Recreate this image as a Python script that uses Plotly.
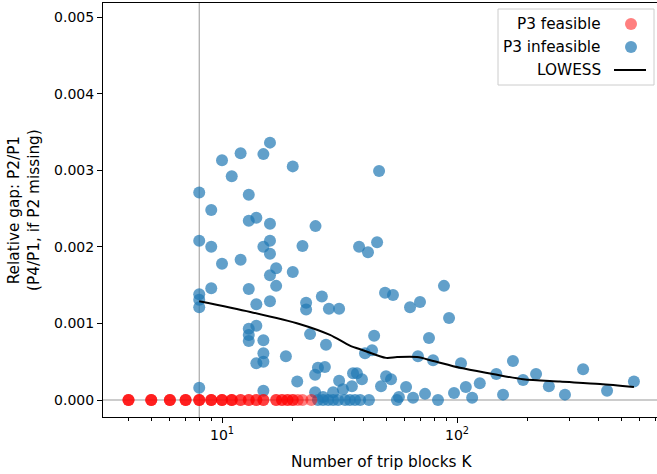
import plotly.graph_objects as go

# ---------------- data ----------------
feasible_k = [4, 4, 4, 5, 5, 5, 6, 6, 6, 7, 7, 7, 8, 8, 8, 9, 9, 9, 10, 10, 10,
              11, 11, 11, 12, 12, 13, 13, 14, 14, 15, 15, 17, 17, 18, 18, 19, 19,
              20, 20, 21, 22, 24]
feasible_gap = [0.0, 0.0, 0.0, 0.0, 0.0, 0.0, 0.0, 0.0, 0.0, 0.0, 0.0, 0.0, 0.0,
                0.0, 0.0, 0.0, 0.0, 0.0, 0.0, 0.0, 0.0, 0.0, 0.0, 0.0, 0.0, 0.0,
                0.0, 0.0, 0.0, 0.0, 0.0, 0.0, 0.0, 0.0, 0.0, 0.0, 0.0, 0.0, 0.0,
                0.0, 0.0, 0.0, 0.0]

infeasible_k = [16, 12, 15, 10, 20, 11, 46.6, 8, 13, 9,
                13, 14, 16, 25, 8, 9, 16, 15, 16, 22,
                38.3, 41.8, 45.7, 10, 12, 17, 20, 16, 26.6, 49.4,
                53.4, 88, 9, 8, 8, 8, 13, 14, 16, 17,
                22.8, 22.8, 28.5, 31.5, 63.1, 69.6, 92.5, 13, 13, 13,
                14, 15, 15, 15, 14, 18.7, 23.7, 27.7, 20.9, 24.9,
                25.6, 27.4, 8, 15, 24.9, 26.9, 44.4, 40.6, 43.5, 76,
                68.2, 79.1, 104, 173, 147, 125, 109, 116, 97.1, 157,
                191, 217, 246, 288, 344, 435, 566, 83, 73.1, 65,
                60.7, 56.6, 55.5, 47.5, 49.9, 52.4, 42.2, 39.4, 37.5, 36.1,
                35.7, 31.5, 32.7, 29.7, 25.6, 26.9, 28.3, 29.7, 31.2, 33.4,
                35, 36.8, 38.7]
infeasible_gap = [0.00336, 0.00322, 0.00321, 0.00313, 0.00305, 0.00292, 0.00299, 0.00271, 0.00268, 0.00248,
                  0.00234, 0.00238, 0.00230, 0.00227, 0.00208, 0.00200, 0.00208, 0.00200, 0.00191, 0.00201,
                  0.00200, 0.00193, 0.00206, 0.00178, 0.00183, 0.00172, 0.00167, 0.00163, 0.00135, 0.00140,
                  0.00137, 0.00149, 0.00146, 0.00138, 0.00131, 0.00121, 0.00145, 0.00125, 0.00129, 0.00149,
                  0.00127, 0.00118, 0.00119, 0.00119, 0.00121, 0.00128, 0.00107, 0.00093, 0.00085, 0.00077,
                  0.00097, 0.00078, 0.00061, 0.00050, 0.00048, 0.00057, 0.00086, 0.00072, 0.00024, 0.00033,
                  0.00042, 0.00043, 0.00016, 0.00012, 0.00010, 0.00004, 0.00084, 0.00061, 0.00065, 0.00081,
                  0.00057, 0.00052, 0.00048, 0.00051, 0.00034, 0.00022, 0.00017, 0.00003, 0.00009, 0.00007,
                  0.00026, 0.00034, 0.00018, 0.00007, 0.00040, 0.00012, 0.00024, 0.0, 0.00008, 0.00003,
                  0.00017, 0.00004, 0.0, 0.00018, 0.00031, 0.00027, 0.0, 0.00027, 0.00035, 0.00035,
                  0.00018, 0.00025, 0.00014, 0.00010, 0.0, 0.0, 0.0, 0.0, 0.0, 0.0,
                  0.0, 0.0, 0.0]

lowess_k = [8, 13.2, 21.5, 28.8, 35, 39.8, 49.9, 55.6, 67.6, 79.1, 103, 142, 191, 274, 406, 566]
lowess_gap = [0.00129, 0.00115, 0.00099, 0.00085, 0.00071, 0.00065, 0.00055, 0.00056, 0.00056,
              0.00051, 0.00042, 0.00034, 0.00027, 0.00024, 0.00021, 0.00017]

x_tick_vals = [10, 100]
x_tick_text = ["10<sup>1</sup>", "10<sup>2</sup>"]
x_minor_vals = [4, 5, 6, 7, 8, 9, 20, 30, 40, 50, 60, 70, 80, 90, 200, 300, 400, 500, 600, 700]
y_tick_vals = [0.0, 0.001, 0.002, 0.003, 0.004, 0.005]
y_tick_text = ["0.000", "0.001", "0.002", "0.003", "0.004", "0.005"]

ref_k = 8
ref_gap = 0.0

# ---------------- layout geometry ----------------
W, H = 657, 474
ML, MR, MT, MB = 103, 0, 3, 57
PW, PH = W - ML - MR, H - MT - MB


def pxx(px):
    return (px - ML) / PW


def pxy(py):
    return (H - MB - py) / PH


FONT = "DejaVu Sans"
FS = 14        # tick labels
FL = 15.3      # axis titles and legend
BLUE = "rgba(31,119,180,0.7)"
RED = "rgba(255,0,0,0.5)"

fig = go.Figure()
fig.add_trace(go.Scatter(x=infeasible_k, y=infeasible_gap, mode="markers",
                         marker=dict(size=12, color=BLUE, line=dict(width=0)),
                         name="P3 infeasible", showlegend=False))
fig.add_trace(go.Scatter(x=feasible_k, y=feasible_gap, mode="markers",
                         marker=dict(size=12, color=RED, line=dict(width=0)),
                         name="P3 feasible", showlegend=False))
fig.add_trace(go.Scatter(x=lowess_k, y=lowess_gap, mode="lines",
                         line=dict(color="black", width=2, shape="spline", smoothing=0.8),
                         name="LOWESS", showlegend=False))

shapes = [
    dict(type="line", xref="x", yref="paper", x0=ref_k, x1=ref_k, y0=0, y1=1,
         line=dict(color="rgba(128,128,128,0.8)", width=1), layer="below"),
    dict(type="line", xref="paper", yref="y", x0=0, x1=1, y0=ref_gap, y1=ref_gap,
         line=dict(color="rgba(128,128,128,0.8)", width=1), layer="below"),
    # legend frame
    dict(type="rect", xref="paper", yref="paper", x0=pxx(498), x1=pxx(654), y0=pxy(85), y1=pxy(9),
         line=dict(color="#cccccc", width=1), fillcolor="rgba(255,255,255,0.8)", layer="above"),
    # legend markers
    dict(type="circle", xref="paper", yref="paper", xsizemode="pixel", ysizemode="pixel",
         xanchor=pxx(631), yanchor=pxy(24), x0=-6, x1=6, y0=-6, y1=6,
         fillcolor=RED, line=dict(width=0), layer="above"),
    dict(type="circle", xref="paper", yref="paper", xsizemode="pixel", ysizemode="pixel",
         xanchor=pxx(631), yanchor=pxy(47), x0=-6, x1=6, y0=-6, y1=6,
         fillcolor=BLUE, line=dict(width=0), layer="above"),
    dict(type="line", xref="paper", yref="paper", x0=pxx(614), x1=pxx(646), y0=pxy(70), y1=pxy(70),
         line=dict(color="black", width=2), layer="above"),
]

annotations = [
    dict(text="P3 feasible", xref="paper", yref="paper", x=pxx(603), y=pxy(24),
         xanchor="right", yanchor="middle", showarrow=False, font=dict(family=FONT, size=FL, color="black")),
    dict(text="P3 infeasible", xref="paper", yref="paper", x=pxx(603), y=pxy(47),
         xanchor="right", yanchor="middle", showarrow=False, font=dict(family=FONT, size=FL, color="black")),
    dict(text="LOWESS", xref="paper", yref="paper", x=pxx(603), y=pxy(70),
         xanchor="right", yanchor="middle", showarrow=False, font=dict(family=FONT, size=FL, color="black")),
    dict(text="Number of trip blocks K", xref="paper", yref="paper", x=pxx(381), y=pxy(462),
         xanchor="center", yanchor="middle", showarrow=False, font=dict(family=FONT, size=FL, color="black")),
    dict(text="Relative gap: P2/P1<br>(P4/P1, if P2 missing)", xref="paper", yref="paper",
         x=pxx(24), y=pxy(210), textangle=-90, xanchor="center", yanchor="middle", showarrow=False,
         font=dict(family=FONT, size=FL, color="black")),
]

fig.update_layout(
    width=W, height=H,
    margin=dict(l=ML, r=MR, t=MT, b=MB, pad=0),
    paper_bgcolor="white", plot_bgcolor="white",
    font=dict(family=FONT, size=FS, color="black"),
    showlegend=False,
    shapes=shapes,
    annotations=annotations,
    xaxis=dict(type="log", range=[0.4936, 2.851], tickmode="array", tickvals=x_tick_vals,
               ticktext=x_tick_text, ticks="outside", ticklen=5, tickwidth=1, tickcolor="black",
               showline=True, linecolor="black", linewidth=1, mirror=True,
               showgrid=False, zeroline=False,
               minor=dict(tickmode="array", tickvals=x_minor_vals, ticks="outside", ticklen=3,
                          tickwidth=1, tickcolor="black", showgrid=False),
               tickfont=dict(family=FONT, size=FS, color="black")),
    yaxis=dict(range=[-0.000222, 0.005183], tickmode="array", tickvals=y_tick_vals,
               ticktext=y_tick_text, ticks="outside", ticklen=5, tickwidth=1, tickcolor="black",
               showline=True, linecolor="black", linewidth=1, mirror=False,
               showgrid=False, zeroline=False,
               tickfont=dict(family=FONT, size=FS, color="black")),
)

fig.write_html("out.html", config={"displayModeBar": False},
               post_script="document.body.style.margin='0';")
